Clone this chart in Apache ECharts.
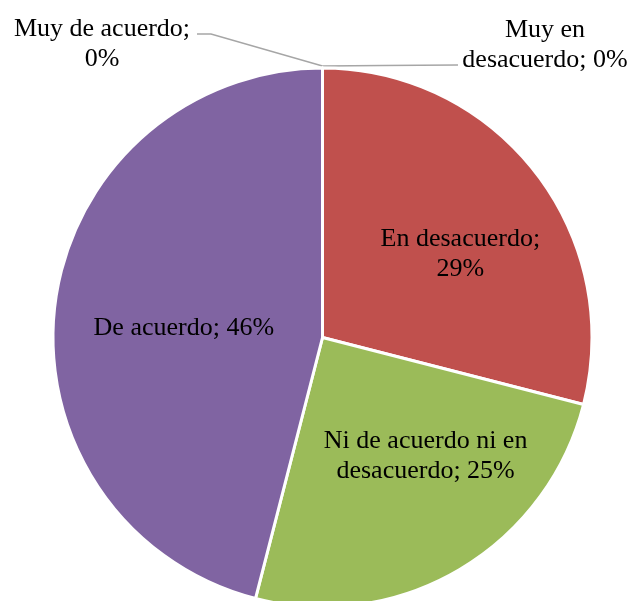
<!DOCTYPE html>
<html>
<head>
<meta charset="utf-8">
<style>
  html, body { margin: 0; padding: 0; background: #ffffff; }
  #chart { width: 630px; height: 601px; }
</style>
<script src="https://cdn.jsdelivr.net/npm/echarts@6/dist/echarts.min.js"></script>
</head>
<body>
<div id="chart"></div>
<script>
// Survey answers, clockwise from 12 o'clock
const categories = [
  'Muy en desacuerdo',
  'En desacuerdo',
  'Ni de acuerdo ni en desacuerdo',
  'De acuerdo',
  'Muy de acuerdo'
];
const values = [0, 29, 25, 46, 0];
const colors = ['#4F81BD', '#C0504D', '#9BBB59', '#8064A2', '#4BACC6'];

// Line breaks used when printing each category name in its label
const labelNames = [
  'Muy en\ndesacuerdo',
  'En desacuerdo',
  'Ni de acuerdo ni en\ndesacuerdo',
  'De acuerdo',
  'Muy de acuerdo'
];
const percentBreak = [false, true, false, false, true];

// Label placement: slices with a value sit inside, empty ones outside with a leader
const insideOffsets = [null, [29, 1], [33, 0], [-2, 8], null];
const outsideSpots = [
  { x: 545, y: 45, side: 1 },
  null, null, null,
  { x: 102, y: 44, side: -1 }
];

const chart = echarts.init(document.getElementById('chart'), null, { renderer: 'canvas' });

const data = categories.map(function (name, i) {
  const item = {
    name: name,
    value: values[i],
    itemStyle: { color: colors[i] }
  };
  if (insideOffsets[i]) {
    item.label = { position: 'inside', offset: insideOffsets[i] };
    item.labelLine = { show: false };
  } else {
    item.label = { position: 'outside' };
    item.labelLine = {
      show: true,
      length: 10,
      length2: 10,
      lineStyle: { color: '#A6A6A6', width: 1.5 }
    };
  }
  return item;
});

chart.setOption({
  backgroundColor: '#ffffff',
  animation: false,
  series: [{
    type: 'pie',
    center: [322.5, 337.5],
    radius: 269.5,
    startAngle: 90,
    clockwise: true,
    avoidLabelOverlap: false,
    minShowLabelAngle: 0,
    data: data,
    itemStyle: { borderColor: '#ffffff', borderWidth: 3 },
    emphasis: { disabled: true },
    label: {
      show: true,
      color: '#000000',
      fontFamily: '"Liberation Serif", "Times New Roman", serif',
      fontSize: 26,
      lineHeight: 30,
      align: 'center',
      formatter: function (p) {
        const i = p.dataIndex;
        const pct = Math.round(p.percent) + '%';
        return labelNames[i] + ';' + (percentBreak[i] ? '\n' : ' ') + pct;
      }
    },
    labelLayout: function (p) {
      const spot = outsideSpots[p.dataIndex];
      if (!spot) return {};
      const pts = p.labelLinePoints || [[322.5, 68]];
      const a = [pts[0][0], pts[0][1] - 2];
      let line;
      if (spot.side > 0) {
        // flat leader running right to the second text line
        line = [a, [a[0] + 60, a[1] - 0.5], [spot.x - 87, a[1] - 1]];
      } else {
        // slanted leader up-left, finishing with a short flat tail
        line = [a, [spot.x + 109, spot.y - 10], [spot.x + 95, spot.y - 10]];
      }
      return {
        x: spot.x,
        y: spot.y,
        align: 'center',
        verticalAlign: 'middle',
        labelLinePoints: line
      };
    }
  }]
});
</script>
</body>
</html>
